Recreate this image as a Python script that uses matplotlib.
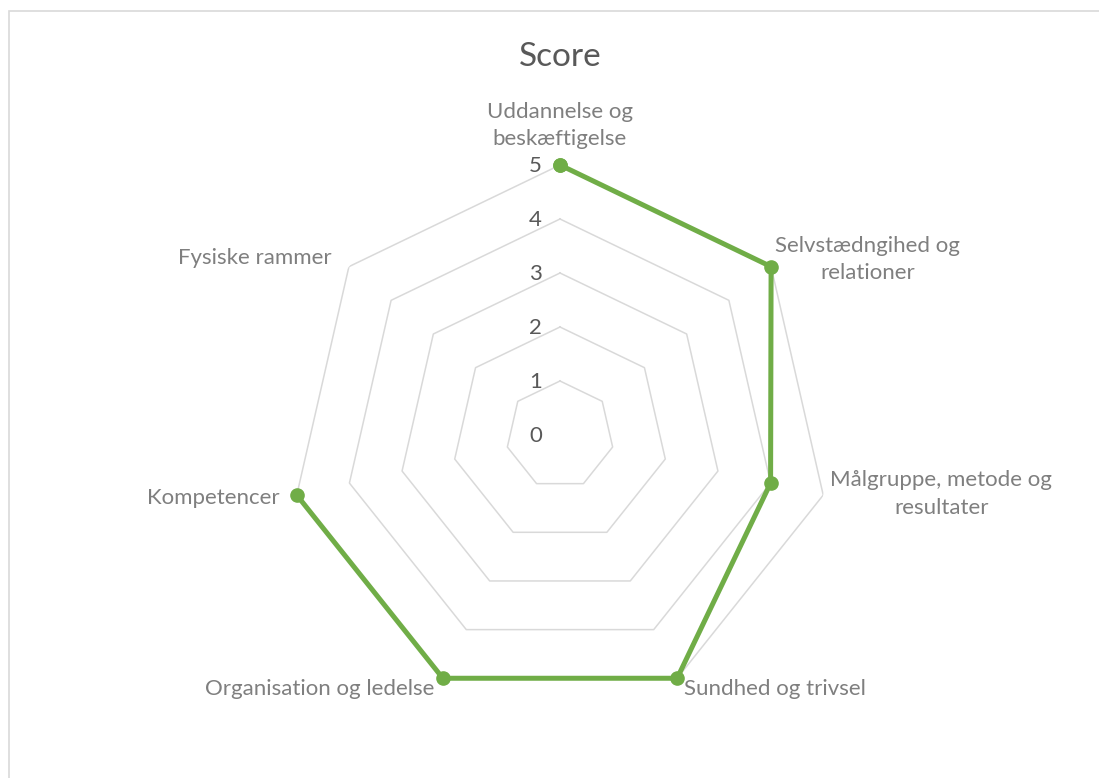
import matplotlib.pyplot as plt
import numpy as np
from matplotlib.patches import Rectangle

plt.rcParams['font.family'] = ['Lato', 'DejaVu Sans']

categories = ['Uddannelse og\nbeskæftigelse', 'Selvstædngihed og\nrelationer',
              'Målgruppe, metode og\nresultater', 'Sundhed og trivsel',
              'Organisation og ledelse', 'Kompetencer', 'Fysiske rammer']
scores = [5, 5, 4, 5, 5, 5, np.nan]   # Fysiske rammer has no value
rings = [0, 1, 2, 3, 4, 5]

W, H = 1099, 778
fig = plt.figure(figsize=(W / 100, H / 100), dpi=100)

# border of the chart area
fig.patches.append(Rectangle((9 / W, -0.1), 1.2, 1 - 11 / H + 0.1, transform=fig.transFigure,
                             fill=False, ec='#d9d9d9', lw=1.2))

cx, cy, R = 560, H - 435, 270
ax = fig.add_axes([(cx - R) / W, (cy - R) / H, 2 * R / W, 2 * R / H], projection='polar')
ax.set_theta_zero_location('N')
ax.set_theta_direction(-1)
ax.set_ylim(0, 5)
ax.grid(False)
ax.spines['polar'].set_visible(False)
ax.set_xticks([])
ax.set_yticks([])
ax.patch.set_alpha(0)

n = len(categories)
theta = np.arange(n) * 2 * np.pi / n
theta_closed = np.append(theta, theta[0])

# heptagon gridlines
for r in rings[1:]:
    ax.plot(theta_closed, [r] * (n + 1), color='#d9d9d9', lw=1.1, zorder=1)

# value axis labels
for r in rings:
    ax.annotate(str(r), (0, r), xytext=(-18, -1), textcoords='offset pixels',
                ha='right', va='center', fontsize=16, color='#595959')

# series
vals = np.append(scores, scores[0])
ax.plot(theta_closed, vals, color='#70ad47', lw=3.6, marker='o', ms=9.5,
        zorder=3, clip_on=False)

# category labels
label_offsets = [(0, 16, 'center', 'bottom'), (4, 7, 'left', 'center'),
                 (7, 1, 'left', 'center'), (7, -1, 'left', 'top'),
                 (-8, -1, 'right', 'top'), (-17, -3, 'right', 'center'),
                 (-17, 9, 'right', 'center')]
for t, lab, (dx, dy, ha, va) in zip(theta, categories, label_offsets):
    ax.annotate(lab, (t, 5), xytext=(dx, dy), textcoords='offset pixels',
                ha=ha, va=va, multialignment='center', fontsize=16,
                color='#7f7f7f', linespacing=1.45, annotation_clip=False)

fig.text(cx / W, 1 - 57 / H, 'Score', ha='center', va='center', fontsize=24, color='#595959')

fig.savefig('out.png', dpi=100, facecolor='white')
